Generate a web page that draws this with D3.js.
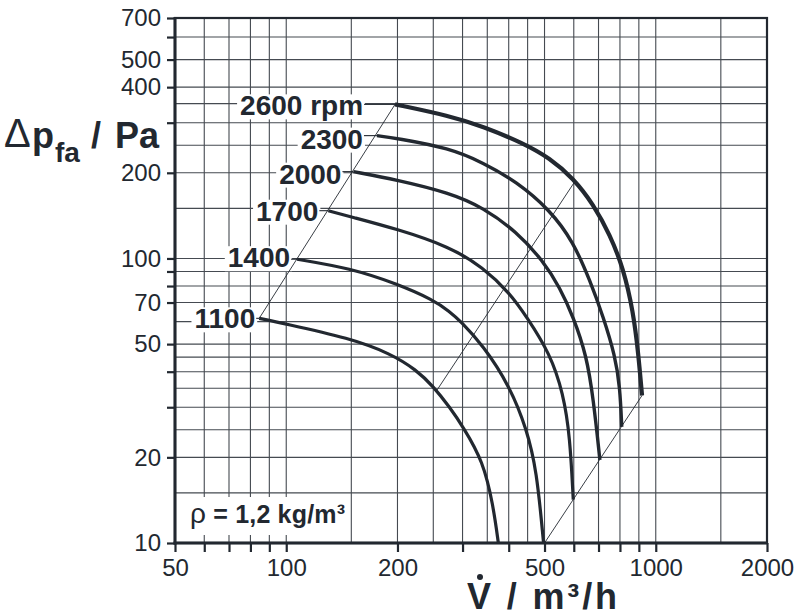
<!DOCTYPE html>
<html><head><meta charset="utf-8">
<script src="https://cdn.jsdelivr.net/npm/d3@7"></script>
<style>body{margin:0;background:#fff}svg{display:block}</style>
</head><body>
<svg id="chart" width="796" height="615"></svg>
<script>
// ---- data ----
const xGrid = [60,70,80,90,100,150,200,250,300,350,400,450,500,600,700,800,900,1000,1500];
const yGrid = [15,20,25,30,35,40,45,50,60,70,80,90,100,150,200,250,300,350,400,500,600];
const xTicks = [50,60,70,80,90,100,200,300,400,500,600,700,800,900,1000,2000];
const xTickLabels = [50,100,200,500,1000,2000];
const yTicks = [10,20,30,40,50,70,80,90,100,200,300,400,500,600,700];
const yTickLabels = [10,20,50,70,100,200,400,500,700];

const speeds = [1100,1400,1700,2000,2300,2600];
const speedLabels = ["1100","1400","1700","2000","2300","2600 rpm"];

// [V m3/h, dp Pa]
const curve1100 = [[84.5,61.6],[98,59.2],[149,52.4],[191,46.4],[225,40.6],[250,35.5],[277,30.0],[301,25.6],[341,19.4],[363,13.6],[375,10]];
const curve1400 = [[107,99.4],[149,92.4],[199,81.5],[250,71.5],[277,65.0],[295,60.5],[341,49.5],[403,35.5],[447,25.2],[476,18.1],[497,10]];
const curve1700 = [[130,147.2],[149,140.3],[199,127],[277,110],[341,93],[403,75.5],[447,62.4],[517,46.4],[562,33.6],[586,23.6],[598,14.2]];
const curve2000 = [[152,201.9],[199,189],[277,170],[341,151],[420,124.2],[496,98],[550,79],[598,62.4],[650,45.5],[678,32.0],[706,19.6]];
const curve2300 = [[176,270.2],[199,264.6],[277,244],[341,217],[420,186.2],[517,148.1],[598,114.6],[664,83.5],[721,62.4],[776,45.5],[800,35.4],[809,25.6]];
const curve2600 = [[197,348],[277,317],[341,291],[438,254.1],[517,225],[598,191.4],[678,155],[752,121],[817,92.4],[869,65],[897,46.4],[918,33]];
const curves = [curve1100,curve1400,curve1700,curve2000,curve2300,curve2600];

// system (parabola) lines
const sysStart = [[84.5,61.6],[197,348]];
const sysMid = [[256,34.5],[605,187]];
const sysEnd = [[500,10],[918,33]];

// ---- layout / style ----
const ink = "#222830";
const font = "'Liberation Sans', Arial, Helvetica, sans-serif";
const labelGap = [4,7,10,12,14,32];
const labelDrop = [10,8,10,12,13,11];
const curveWidth = [3.2,3.2,3.2,3.4,3.4,4.2];

const svg = d3.select("#chart");
const x = d3.scaleLog().domain([50,2000]).range([175,767]);
const y = d3.scaleLog().domain([10,700]).range([543,18]);

// grid
const grid = svg.append("g");
grid.selectAll("line.vx").data(xGrid).join("line")
  .attr("x1", d=>x(d)).attr("x2", d=>x(d)).attr("y1", y(10)).attr("y2", y(700))
  .attr("stroke", "#454a51").attr("stroke-width", 1.1);
grid.selectAll("line.hy").data(yGrid).join("line")
  .attr("y1", d=>y(d)).attr("y2", d=>y(d)).attr("x1", x(50)).attr("x2", x(2000))
  .attr("stroke", "#454a51").attr("stroke-width", 1.1);

// axes
const xAxis = d3.axisBottom(x).tickValues(xTicks).tickSize(9).tickPadding(7)
  .tickFormat(d => xTickLabels.includes(d) ? String(d) : "");
const gx = svg.append("g").attr("transform", `translate(0,${y(10)})`).call(xAxis);
const yAxis = d3.axisLeft(y).tickValues(yTicks).tickSize(8).tickPadding(6)
  .tickFormat(d => yTickLabels.includes(d) ? String(d) : "");
const gy = svg.append("g").attr("transform", `translate(${x(50)},0)`).call(yAxis);
[gx, gy].forEach(g => {
  g.select(".domain").remove();
  g.selectAll(".tick line").attr("stroke", ink).attr("stroke-width", 2.2);
  g.selectAll(".tick text").attr("fill", ink).style("font-family", font).style("font-size", "24px");
});
gx.selectAll(".tick text").attr("dy", "0.7em");

// layers
const boxLayer = svg.append("g");
const frameLayer = svg.append("g");
const lineLayer = svg.append("g");
const textLayer = svg.append("g");

// frame
frameLayer.append("rect").attr("x", x(50)).attr("y", y(700))
  .attr("width", x(2000)-x(50)).attr("height", y(10)-y(700))
  .attr("fill", "none").attr("stroke", ink).attr("stroke-width", 2.2);
frameLayer.append("line").attr("x1", x(50)).attr("x2", x(50)).attr("y1", y(700)-1).attr("y2", y(10)+1.5)
  .attr("stroke", ink).attr("stroke-width", 3);
frameLayer.append("line").attr("x1", x(50)-1.5).attr("x2", x(2000)+1).attr("y1", y(10)).attr("y2", y(10))
  .attr("stroke", ink).attr("stroke-width", 3);

const straight = d3.line().x(d=>x(d[0])).y(d=>y(d[1]));
[sysStart, sysMid, sysEnd].forEach(s => {
  lineLayer.append("path").attr("d", straight(s)).attr("fill", "none")
    .attr("stroke", ink).attr("stroke-width", 0.9);
});

const smooth = d3.line().x(d=>x(d[0])).y(d=>y(d[1])).curve(d3.curveBasis);
curves.forEach((c, i) => {
  lineLayer.append("path").attr("d", smooth(c)).attr("fill", "none")
    .attr("stroke", ink).attr("stroke-width", curveWidth[i]).attr("stroke-linecap", "butt");
});

// rpm labels with white boxes and leaders
curves.forEach((c, i) => {
  const sx = x(c[0][0]), sy = y(c[0][1]);
  const ex = sx - labelGap[i];
  const t = textLayer.append("text").attr("x", ex).attr("y", sy + labelDrop[i])
    .attr("text-anchor", "end").attr("fill", ink)
    .style("font-family", font).style("font-size", "28px").style("font-weight", "bold")
    .text(speedLabels[i]);
  const b = t.node().getBBox();
  boxLayer.append("rect").attr("x", b.x - 3).attr("y", b.y + 4).attr("width", b.width + 5).attr("height", b.height - 6)
    .attr("fill", "#fff");
  lineLayer.append("line").attr("x1", b.x + b.width + 1).attr("x2", sx).attr("y1", sy).attr("y2", sy)
    .attr("stroke", ink).attr("stroke-width", 1.1);
});

// density note
boxLayer.append("rect").attr("x", x(50)+1).attr("y", 497).attr("width", 172).attr("height", 38).attr("fill", "#fff");
const rho = textLayer.append("text").attr("x", 190).attr("y", 523)
  .attr("fill", ink).style("font-family", font).style("font-size", "25px").style("font-weight", "bold")
  .attr("textLength", 155).attr("lengthAdjust", "spacing");
rho.append("tspan").style("font-weight", "normal").style("font-size", "28px").text("ρ");
rho.append("tspan").text(" = 1,2 kg/m³");

// y title
const yt = textLayer.append("g").attr("fill", ink).style("font-family", font).style("font-weight", "bold");
yt.append("text").attr("x", 4).attr("y", 147).style("font-size", "40px").style("font-weight", "normal").text("Δ");
yt.append("text").attr("x", 32).attr("y", 148).style("font-size", "36px").text("p");
yt.append("text").attr("x", 55).attr("y", 162).style("font-size", "28px").text("fa");
yt.append("text").attr("x", 91).attr("y", 148).style("font-size", "36px").text("/");
yt.append("text").attr("x", 115).attr("y", 148).style("font-size", "36px").text("Pa");

// x title
const xt = textLayer.append("text").attr("x", 467).attr("y", 609).attr("fill", ink)
  .style("font-family", font).style("font-size", "36px").style("font-weight", "bold")
  .attr("textLength", 150).attr("lengthAdjust", "spacing").text("V / m³/h");
textLayer.append("circle").attr("cx", 480).attr("cy", 577).attr("r", 3).attr("fill", ink);
</script>
</body></html>
